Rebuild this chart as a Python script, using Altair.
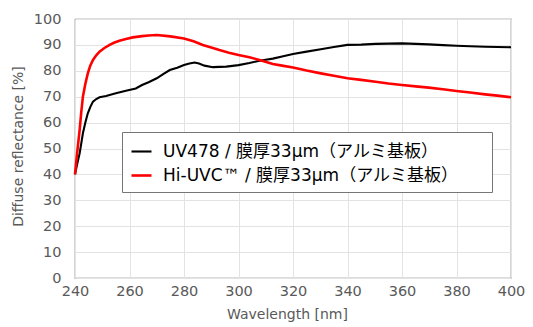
import altair as alt
import pandas as pd

# Hi-UVC™ (red)
wl_red = [240, 240.8, 241.7, 242.3, 242.9, 243.8, 244.7, 245.6, 246.6, 247.8, 249, 250.8,
          252.7, 254.5, 256.3, 258.7, 261.2, 264.6, 267, 270, 275, 280, 283.5, 286.9, 290,
          293, 296.5, 300, 304, 307.7, 312.6, 316, 320, 325, 330.2, 335, 340, 345, 350.3,
          355, 360, 365, 369.8, 375, 380, 385, 390.5, 395, 400]
refl_red = [40, 48.5, 57.1, 64, 70, 75, 79, 82, 84.2, 86, 87.4, 88.8,
            90, 90.9, 91.6, 92.3, 92.9, 93.4, 93.6, 93.8, 93.3, 92.5, 91.4, 90, 89,
            88, 87, 86.1, 85.2, 84.2, 82.6, 82, 81.3, 80.1, 79, 78.1, 77.1, 76.5, 75.8,
            75.1, 74.5, 74, 73.5, 72.9, 72.2, 71.6, 70.9, 70.4, 69.8]

# UV478 (black)
wl_blk = [240, 240.8, 241.7, 242.3, 242.9, 243.8, 244.7, 245.6, 246.6, 247.8, 249, 251.4,
          255, 258.7, 262.3, 264.6, 267, 270, 272.5, 274.8, 277.5, 280, 282, 283.9, 285.5,
          287.5, 290.6, 293, 295.5, 300, 304, 307.7, 310, 312.6, 316, 320, 325, 330.2, 335,
          340, 345, 350.3, 355, 360, 365, 369.8, 375, 380, 385, 390.5, 395, 400]
refl_blk = [40, 44, 48.1, 52, 55.9, 60, 63.6, 66, 68.1, 69.1, 69.8, 70.3,
            71.3, 72.3, 73.2, 74.5, 75.6, 77.1, 78.8, 80.3, 81.2, 82.2, 82.8, 83.2, 82.8,
            82, 81.4, 81.5, 81.6, 82.2, 83, 83.9, 84.3, 84.7, 85.5, 86.5, 87.4, 88.3, 89.2,
            90, 90.1, 90.4, 90.5, 90.6, 90.4, 90.2, 89.9, 89.7, 89.5, 89.3, 89.2, 89.1]

series_names = ["UV478 / 膜厚33μm（アルミ基板）", "Hi-UVC™ / 膜厚33μm（アルミ基板）"]
series_colors = ["#000000", "#ff0000"]
series_widths = [2.1, 2.6]
x_ticks = [240, 260, 280, 300, 320, 340, 360, 380, 400]
y_ticks = [0, 10, 20, 30, 40, 50, 60, 70, 80, 90, 100]

df = pd.concat([
    pd.DataFrame({"wl": wl_blk, "r": refl_blk, "s": series_names[0], "o": 0}),
    pd.DataFrame({"wl": wl_red, "r": refl_red, "s": series_names[1], "o": 1}),
])

font = "DejaVu Sans"
gray = "#595959"

chart = alt.Chart(df).mark_line().encode(
    x=alt.X("wl:Q",
            scale=alt.Scale(domain=[240, 400], nice=False, zero=False),
            axis=alt.Axis(values=x_ticks, title="Wavelength [nm]", ticks=False, domain=False,
                          labelPadding=6, titlePadding=10, titleX=212,
                          labelFlush=False, labelOverlap=False, labelBound=False,
                          grid=True)),
    y=alt.Y("r:Q",
            scale=alt.Scale(domain=[0, 100], nice=False),
            axis=alt.Axis(values=y_ticks, title="Diffuse reflectance [%]", ticks=False,
                          domain=False, labelPadding=14, titlePadding=8, titleY=127,
                          labelFlush=False, grid=True)),
    color=alt.Color("s:N",
                    scale=alt.Scale(domain=series_names, range=series_colors),
                    legend=alt.Legend(title=None, orient="none", legendX=47, legendY=113,
                                      symbolType="stroke", symbolSize=400,
                                      symbolStrokeWidth=2.5, labelOffset=10,
                                      labelFont="DejaVu Sans, Noto Sans CJK JP",
                                      labelFontSize=17, labelColor="#000000",
                                      labelLimit=0, padding=8, rowPadding=4,
                                      strokeColor="#767676", fillColor="#ffffff",
                                      labelExpr="datum.label + '\u2800\u2800'")),
    strokeWidth=alt.StrokeWidth("s:N",
                                scale=alt.Scale(domain=series_names, range=series_widths),
                                legend=None),
    order=alt.Order("o:Q"),
    detail="s:N",
).properties(
    width=436, height=259,
    autosize=alt.AutoSizeParams(type="none"),
    padding={"left": 67, "top": 11, "right": 14, "bottom": 48},
).configure_view(
    stroke="#767676", strokeWidth=1.2
).configure_axis(
    labelFont=font, labelFontSize=14.5, labelColor=gray,
    titleFont=font, titleFontSize=14, titleColor=gray, titleFontWeight="normal",
    gridColor="#e3e3e3", gridWidth=1
)

chart.save("out.html", embed_options={"renderer": "svg", "actions": False})
